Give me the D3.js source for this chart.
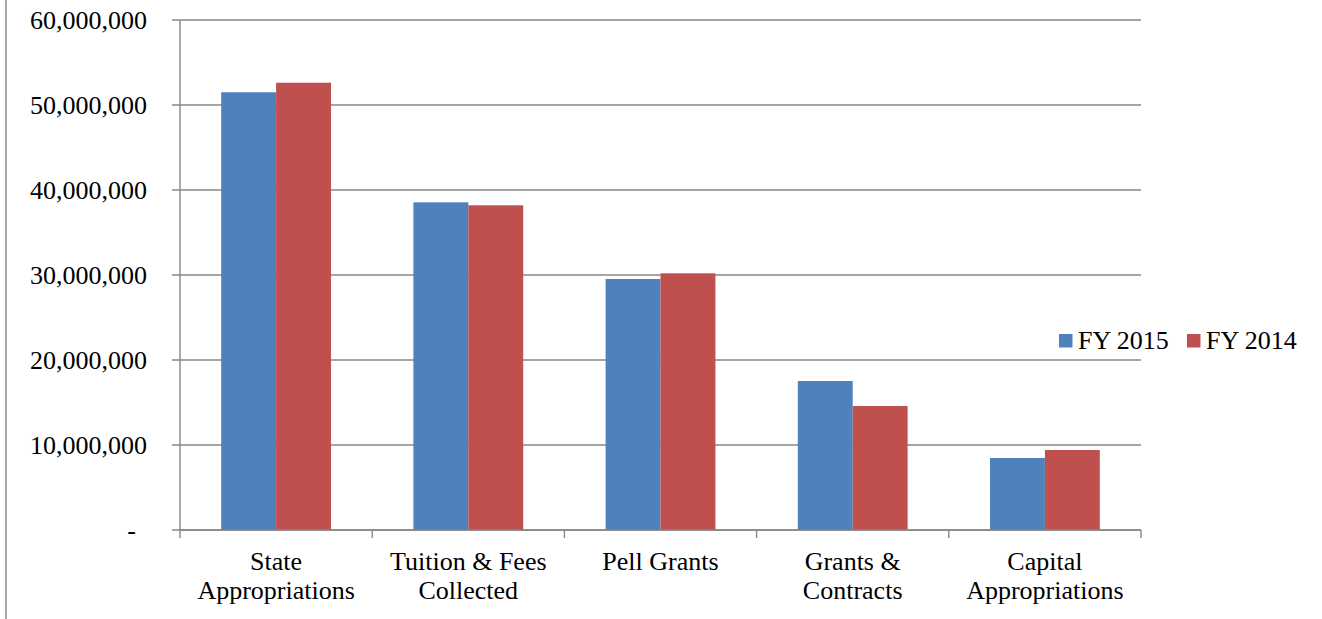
<!DOCTYPE html>
<html><head><meta charset="utf-8">
<script src="https://cdn.jsdelivr.net/npm/d3@7"></script>
<style>body{margin:0;background:#fff}svg{display:block}</style>
</head><body><svg id="c" width="1322" height="619"></svg>
<script>
const categories = [["State","Appropriations"],["Tuition & Fees","Collected"],["Pell Grants"],["Grants &","Contracts"],["Capital","Appropriations"]];
const seriesNames = ["FY 2015","FY 2014"];
const fy2015 = [51500000, 38550000, 29530000, 17530000, 8470000];
const fy2014 = [52620000, 38200000, 30200000, 14590000, 9410000];
const yTicks = [0,10000000,20000000,30000000,40000000,50000000,60000000];
const colors = ["#4F81BD","#C0504D"];

const FONT = "'Liberation Serif', 'Times New Roman', Times, serif";
const FS = 26;
const svg = d3.select("#c");
const L=180, R=1141, T=20, B=530;
const x = d3.scaleBand().domain(d3.range(categories.length)).range([L,R]).paddingInner(0).paddingOuter(0);
const inner = d3.scaleBand().domain([0,1]).range([0,x.bandwidth()]).paddingOuter(0.75).paddingInner(0);
const y = d3.scaleLinear().domain([0,60000000]).range([B,T]);

svg.append("line").attr("x1",6).attr("x2",6).attr("y1",0).attr("y2",619).attr("stroke","#8a8a8a").attr("stroke-width",1.5);

svg.append("g").selectAll("line").data(yTicks).join("line")
  .attr("x1",172).attr("x2",R).attr("y1",d=>y(d)).attr("y2",d=>y(d))
  .attr("stroke","#878787").attr("stroke-width",1.4);

const fmt = d3.format(",");
svg.append("g").selectAll("text").data(yTicks).join("text")
  .attr("x",d=>d===0?136:147).attr("y",d=>y(d)).attr("dy","0.35em")
  .attr("text-anchor","end").attr("font-family",FONT).attr("font-size",FS).attr("fill","#000")
  .text(d=>d===0?"-":fmt(d));

const series=[fy2015,fy2014];
series.forEach((vals,si)=>{
  svg.append("g").selectAll("rect").data(vals).join("rect")
    .attr("x",(d,i)=>x(i)+inner(si)).attr("width",inner.bandwidth())
    .attr("y",d=>y(d)).attr("height",d=>B-y(d))
    .attr("fill",colors[si]);
});

svg.append("line").attr("x1",L).attr("x2",L).attr("y1",T).attr("y2",B).attr("stroke","#878787").attr("stroke-width",1.4);
svg.append("line").attr("x1",L).attr("x2",R).attr("y1",B).attr("y2",B).attr("stroke","#878787").attr("stroke-width",1.4);
const tickXs = d3.range(categories.length+1).map(i=> i<categories.length? x(i) : R);
svg.append("g").selectAll("line").data(tickXs).join("line")
  .attr("x1",d=>d).attr("x2",d=>d).attr("y1",B).attr("y2",B+8)
  .attr("stroke","#878787").attr("stroke-width",1.4);

const cl = svg.append("g").selectAll("text").data(categories).join("text")
  .attr("x",(d,i)=>x(i)+x.bandwidth()/2).attr("y",570)
  .attr("text-anchor","middle").attr("font-family",FONT).attr("font-size",FS).attr("fill","#000");
cl.selectAll("tspan").data(d=>d).join("tspan")
  .attr("x",function(){return this.parentNode.getAttribute("x");})
  .attr("dy",(d,i)=>i===0?0:29).text(d=>d);

const leg = [{x:1059},{x:1187}];
seriesNames.forEach((n,i)=>{
  svg.append("rect").attr("x",leg[i].x).attr("y",334).attr("width",13.5).attr("height",13.5).attr("fill",colors[i]);
  svg.append("text").attr("x",leg[i].x+19).attr("y",349).attr("font-family",FONT).attr("font-size",FS).attr("fill","#000").text(n);
});
</script></body></html>
